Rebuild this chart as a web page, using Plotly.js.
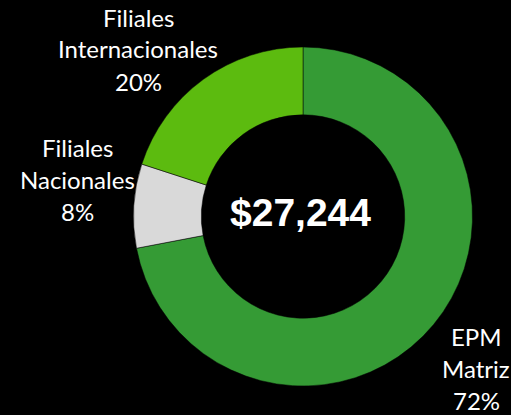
<!DOCTYPE html>
<html>
<head>
<meta charset="utf-8">
<script src="https://cdn.plot.ly/plotly-3.0.1.min.js"></script>
<style>
  html, body { margin: 0; padding: 0; background: #000; }
  #chart { width: 511px; height: 415px; }
</style>
</head>
<body>
<div id="chart"></div>
<script>
// data
const categories = ["EPM Matriz", "Filiales Nacionales", "Filiales Internacionales"];
const shares = [72, 8, 20];
const sliceColors = ["#359b35", "#d9d9d9", "#5cbb0f"];
const totalText = "$27,244";

const W = 511, H = 415;

// label block centres (pixels), one per category
const labelPos = [
  { x: 476, y: 368 },
  { x: 77, y: 179 },
  { x: 138, y: 49 }
];
const lineGap = 32;

const annotations = [];
categories.forEach((name, i) => {
  const lines = name.split(" ").concat([shares[i] + "%"]);
  lines.forEach((txt, j) => {
    const yPix = labelPos[i].y + (j - (lines.length - 1) / 2) * lineGap;
    annotations.push({
      x: labelPos[i].x / W, y: 1 - yPix / H,
      xref: "paper", yref: "paper",
      xanchor: "center", yanchor: "middle",
      text: txt, showarrow: false,
      font: { family: "Lato, 'Open Sans', sans-serif", size: 24, color: "#ffffff" }
    });
  });
});

// total in the hole
annotations.push({
  x: 300.5 / W, y: 1 - 213 / H,
  xref: "paper", yref: "paper",
  xanchor: "center", yanchor: "middle",
  text: totalText, showarrow: false,
  font: { family: "'Liberation Sans', Arial, sans-serif", size: 39, color: "#ffffff", weight: "bold" }
});

const cx = 303, cy = 216.5, r = 169.5;

const trace = {
  type: "pie",
  labels: categories,
  values: shares,
  hole: 0.6,
  sort: false,
  direction: "clockwise",
  rotation: 0,
  textinfo: "none",
  hoverinfo: "label+percent",
  marker: { colors: sliceColors, line: { color: "#000000", width: 0.5 } },
  domain: {
    x: [(cx - r) / W, (cx + r) / W],
    y: [(H - cy - r) / H, (H - cy + r) / H]
  }
};

const layout = {
  width: W,
  height: H,
  margin: { l: 0, r: 0, t: 0, b: 0 },
  paper_bgcolor: "#000000",
  plot_bgcolor: "#000000",
  showlegend: false,
  annotations: annotations
};

Plotly.newPlot("chart", [trace], layout, { displayModeBar: false, staticPlot: true });
</script>
</body>
</html>
